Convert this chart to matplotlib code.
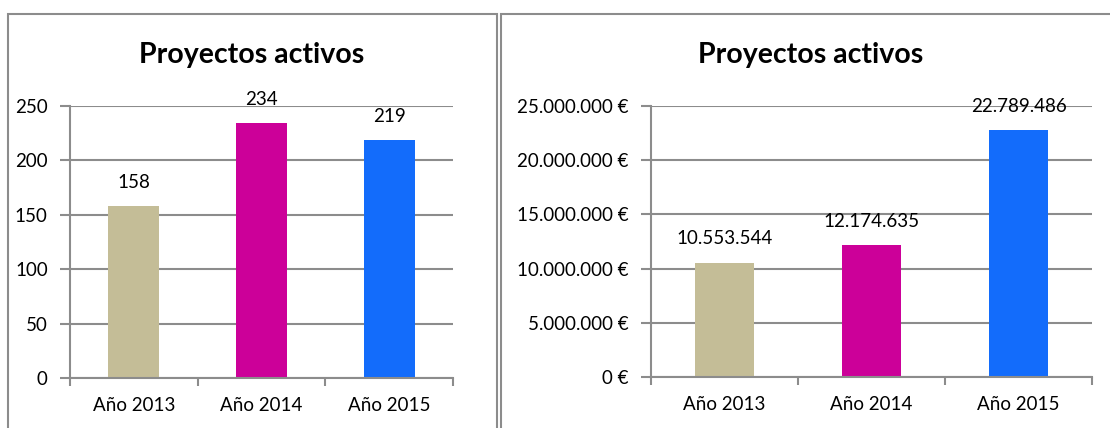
import numpy as np
import matplotlib
matplotlib.use('Agg')
import matplotlib.pyplot as plt
from matplotlib.ticker import FuncFormatter, MultipleLocator
from matplotlib.patches import Rectangle

plt.rcParams['font.family'] = ['Lato', 'DejaVu Sans']

years = ['Año 2013', 'Año 2014', 'Año 2015']
proyectos = [158, 234, 219]
importes = [10553544, 12174635, 22789486]
colores = ['#C4BD97', '#CC0099', '#136CFB']
titulo = 'Proyectos activos'

W, H = 1110, 428
fig = plt.figure(figsize=(W/100, H/100), dpi=100)

grid_c = '#8C8C8C'


def miles(v):
    return '{:,.0f}'.format(v).replace(',', '.')


def style_ax(ax, ymax, step):
    x = np.arange(len(years))
    ax.set_xlim(-0.5, len(years) - 0.5)
    ax.set_ylim(0, ymax)
    ax.yaxis.set_major_locator(MultipleLocator(step))
    # ticks between categories, labels centred under bars
    ax.set_xticks(np.arange(len(years) + 1) - 0.5)
    ax.set_xticklabels([])
    ax.set_xticks(x, minor=True)
    ax.set_xticklabels(years, minor=True)
    ax.tick_params(axis='x', which='major', length=6, width=1.5, color=grid_c, direction='out')
    ax.tick_params(axis='x', which='minor', length=0, pad=14, labelsize=13.5)
    ax.tick_params(axis='y', length=7, width=1.5, color=grid_c, pad=9, labelsize=13.5)
    ax.grid(axis='y', color=grid_c, linewidth=1.5)
    ax.set_axisbelow(True)
    for s in ['top', 'right']:
        ax.spines[s].set_visible(False)
    for s in ['left', 'bottom']:
        ax.spines[s].set_color(grid_c)
        ax.spines[s].set_linewidth(1.5)


# panel borders
fig.patches.append(Rectangle((8/W, -0.1), (497-8)/W, (428-14)/H + 0.1, transform=fig.transFigure,
                             fill=False, edgecolor='#8C8C8C', linewidth=1.5))
fig.patches.append(Rectangle((501/W, -0.1), (1120-501)/W, (428-14)/H + 0.1, transform=fig.transFigure,
                             fill=False, edgecolor='#8C8C8C', linewidth=1.5))

# left chart
ax1 = fig.add_axes([70/W, (H-378)/H, 383/W, 272/H])
style_ax(ax1, 250, 50)
b1 = ax1.bar(np.arange(len(years)), proyectos, width=0.4, color=colores)
for rect, v in zip(b1, proyectos):
    ax1.annotate(str(v), (rect.get_x() + rect.get_width()/2, v), xytext=(0, 17),
                 textcoords='offset points', ha='center', va='center', fontsize=13.5)
fig.text(252/W, (H-55)/H, titulo, ha='center', va='center', fontsize=20.5, fontweight='bold')

# right chart
ax2 = fig.add_axes([651/W, (H-377)/H, 441/W, 271/H])
style_ax(ax2, 25000000, 5000000)
ax2.yaxis.set_major_formatter(FuncFormatter(lambda v, p: miles(v) + ' €'))
b2 = ax2.bar(np.arange(len(years)), importes, width=0.4, color=colores)
for rect, v in zip(b2, importes):
    ax2.annotate(miles(v), (rect.get_x() + rect.get_width()/2, v), xytext=(0, 17),
                 textcoords='offset points', ha='center', va='center', fontsize=13.5)
fig.text(811/W, (H-55)/H, titulo, ha='center', va='center', fontsize=20.5, fontweight='bold')

fig.savefig('out.png', dpi=100)
